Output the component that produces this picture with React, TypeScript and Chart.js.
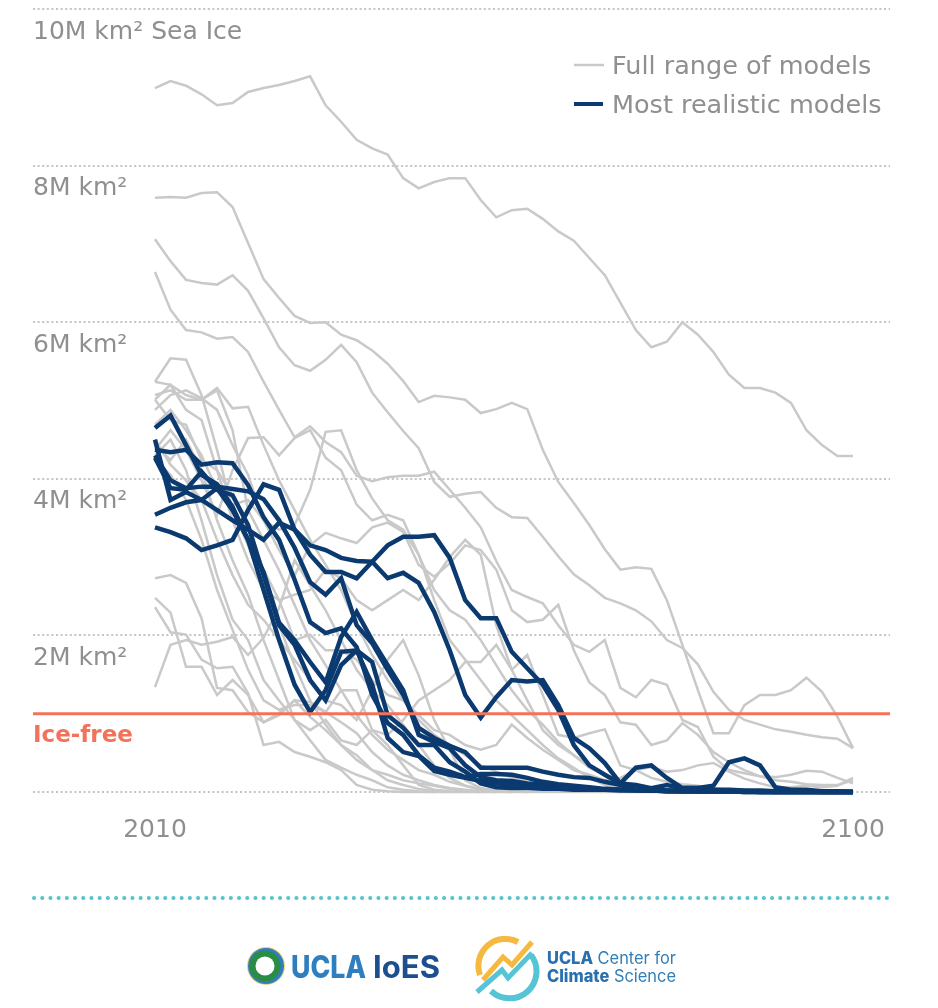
import { useEffect, useRef } from 'react';
import { Chart, registerables } from 'chart.js';

Chart.register(...registerables);

// years every 2 from 2010 to 2100
const years = [
  2010, 2012, 2014, 2016, 2018, 2020, 2022, 2024, 2026, 2028, 2030, 2032, 2034, 2036, 2038, 2040,
  2042, 2044, 2046, 2048, 2050, 2052, 2054, 2056, 2058, 2060, 2062, 2064, 2066, 2068, 2070, 2072,
  2074, 2076, 2078, 2080, 2082, 2084, 2086, 2088, 2090, 2092, 2094, 2096, 2098, 2100,
];

const yTickLabels = ['', '2M km²', '4M km²', '6M km²', '8M km²', '10M km² Sea Ice'];
const xTicks = [2010, 2100];
const iceFreeLevel = 1;

// full range of models, million km2
const gray1 = [8.99, 9.08, 9.02, 8.91, 8.77, 8.8, 8.94, 8.99, 9.03, 9.08, 9.14, 8.77, 8.56, 8.33, 8.22, 8.14, 7.84, 7.71, 7.79, 7.84, 7.84, 7.56, 7.34, 7.43, 7.45, 7.32, 7.16, 7.04, 6.82, 6.6, 6.25, 5.9, 5.68, 5.75, 6.0, 5.84, 5.62, 5.33, 5.16, 5.16, 5.1, 4.97, 4.62, 4.43, 4.29, 4.29];
const gray2 = [7.59, 7.6, 7.59, 7.65, 7.66, 7.47, 7.01, 6.55, 6.31, 6.08, 5.99, 6.0, 5.84, 5.77, 5.64, 5.47, 5.25, 4.98, 5.06, 5.04, 5.01, 4.84, 4.89, 4.97, 4.89, 4.37, 3.96, 3.69, 3.41, 3.1, 2.84, 2.87, 2.85, 2.45, 1.88, 1.3, 0.75, 0.75, 1.11, 1.24, 1.24, 1.3, 1.46, 1.28, 0.96, 0.56];
const gray3 = [7.06, 6.78, 6.54, 6.5, 6.48, 6.6, 6.4, 6.05, 5.68, 5.45, 5.38, 5.52, 5.71, 5.49, 5.1, 4.85, 4.61, 4.39, 3.96, 3.77, 3.81, 3.83, 3.63, 3.51, 3.5, 3.26, 3.01, 2.78, 2.64, 2.48, 2.41, 2.32, 2.18, 1.94, 1.84, 1.63, 1.28, 1.05, 0.92, 0.86, 0.8, 0.77, 0.73, 0.7, 0.68, 0.56];
const gray4 = [6.64, 6.16, 5.9, 5.87, 5.79, 5.81, 5.62, 5.24, 4.88, 4.53, 4.67, 4.47, 4.34, 4.04, 3.97, 4.02, 4.04, 4.04, 4.09, 3.86, 3.63, 3.38, 2.95, 2.58, 2.49, 2.41, 2.13, 1.88, 1.79, 1.94, 1.33, 1.21, 1.43, 1.37, 0.92, 0.83, 0.45, 0.28, 0.24, 0.2, 0.19, 0.22, 0.27, 0.26, 0.18, 0.11];
const gray5 = [5.24, 5.54, 5.52, 5.07, 4.37, 3.6, 3.15, 2.64, 2.13, 1.62, 1.17, 0.86, 0.6, 0.47, 0.28, 0.15, 0.09, 0.04, 0.01, 0];
const gray6 = [5.24, 5.2, 5.07, 5.01, 5.13, 4.62, 3.6, 3.22, 2.83, 2.39, 1.94, 1.62, 1.3, 0.98, 0.73, 0.54, 0.41, 0.28, 0.22, 0.13, 0.08, 0.04, 0.03, 0.01, 0];
const gray7 = [5.07, 5.13, 5.01, 5.01, 5.16, 4.9, 4.92, 4.43, 3.98, 3.6, 3.22, 2.9, 2.58, 2.13, 1.75, 1.43, 1.17, 0.92, 0.73, 0.6, 0.47, 0.34, 0.26, 0.18, 0.13, 0.1, 0.08, 0.05, 0.03, 0.01, 0];
const gray8 = [4.88, 5.07, 5.13, 5.03, 4.88, 4.43, 4.05, 3.47, 3.35, 3.41, 3.86, 4.6, 4.62, 4.11, 3.75, 3.47, 3.35, 3.03, 2.58, 2.32, 2.2, 1.94, 1.62, 1.3, 1.05, 0.86, 0.64, 0.47, 0.34, 0.22, 0.13, 0.06, 0.03, 0.01, 0];
const gray9 = [4.37, 4.62, 4.37, 3.98, 3.54, 4.11, 4.52, 4.53, 4.3, 4.52, 4.62, 4.27, 4.11, 3.67, 3.47, 3.54, 3.47, 3.03, 2.45, 1.94, 1.69, 1.43, 1.17, 0.98, 0.79, 0.6, 0.43, 0.31, 0.18, 0.09, 0.04, 0.01, 0];
const gray10 = [2.73, 2.77, 2.67, 2.22, 1.33, 1.3, 1.02, 0.89, 1.01, 1.17, 1.15, 1.02, 0.89, 0.75, 0.51, 0.34, 0.22, 0.15, 0.09, 0.05, 0.03, 0.01, 0];
const gray11 = [2.48, 2.29, 1.6, 1.6, 1.24, 1.43, 1.24, 0.89, 0.98, 1.17, 0.96, 0.79, 0.6, 0.41, 0.28, 0.22, 0.15, 0.11, 0.08, 0.04, 0.01, 0];
const gray12 = [2.36, 2.04, 2.01, 1.69, 1.58, 1.6, 1.26, 0.6, 0.64, 0.51, 0.45, 0.38, 0.28, 0.09, 0.03, 0.01, 0, 0, 0, 0, 0, 0, 0, 0, 0, 0, 0, 0, 0, 0, 0, 0, 0, 0, 0, 0, 0, 0, 0, 0, 0, 0, 0, 0, 0, 0];
const gray13 = [1.34, 1.88, 1.94, 1.88, 1.92, 1.98, 1.75, 1.97, 2.35, 2.96, 2.64, 2.32, 1.94, 1.56, 1.3, 1.11, 0.86, 0.6, 0.34, 0.18, 0.08, 0.03, 0.01, 0];
const gray14 = [4.69, 4.88, 4.62, 4.3, 3.86, 3.67, 3.73, 3.47, 3.09, 2.77, 3.15, 3.31, 3.24, 3.18, 3.38, 3.44, 3.32, 2.9, 2.75, 2.92, 3.15, 3.09, 2.84, 2.32, 2.17, 2.2, 2.39, 1.81, 1.4, 1.24, 0.89, 0.86, 0.6, 0.66, 0.88, 0.73, 0.51, 0.38, 0.28, 0.2, 0.15, 0.13, 0.1, 0.09, 0.09, 0.15];
const gray15 = [5.01, 5.2, 4.88, 4.75, 4.11, 3.47, 2.96, 2.58, 2.45, 2.52, 2.58, 2.84, 2.73, 2.45, 2.32, 2.45, 2.58, 2.45, 2.71, 3.0, 3.22, 3.03, 2.13, 1.56, 1.17, 0.79, 0.6, 0.47, 0.31, 0.22, 0.13, 0.09, 0.05, 0.03, 0.01, 0];
const gray16 = [4.5, 4.18, 3.98, 3.73, 3.22, 2.77, 2.39, 2.2, 1.94, 1.69, 1.43, 1.17, 1.11, 0.92, 1.3, 1.69, 1.94, 1.49, 0.92, 0.54, 0.15, 0.05, 0.01, 0];
const gray17 = [4.24, 4.05, 3.73, 3.22, 2.58, 2.07, 1.56, 1.17, 1.05, 1.11, 1.11, 1.02, 1.3, 1.3, 0.79, 0.6, 0.34, 0.09, 0.03, 0.01, 0];
const gray18 = [4.43, 4.24, 4.5, 4.11, 3.47, 2.96, 2.52, 1.94, 1.43, 0.92, 0.79, 0.92, 0.66, 0.6, 0.79, 0.73, 0.92, 1.17, 1.3, 1.43, 1.66, 1.66, 1.88, 1.56, 1.75, 1.24, 0.73, 0.69, 0.75, 0.8, 0.34, 0.28, 0.18, 0.13, 0.1, 0.08, 0.05, 0.03, 0.03, 0.01];
const gray19 = [4.3, 4.5, 4.11, 3.47, 2.77, 2.2, 1.94, 1.43, 1.17, 0.92, 0.66, 0.41, 0.31, 0.22, 0.15, 0.06, 0.03, 0.01, 0];
const gray20 = [5.01, 4.75, 4.69, 4.24, 4.11, 3.79, 3.35, 2.84, 2.45, 1.94, 2.01, 1.81, 1.81, 1.69, 1.43, 1.24, 1.17, 0.98, 0.79, 0.73, 0.6, 0.54, 0.6, 0.86, 0.69, 0.54, 0.41, 0.28, 0.22, 0.15, 0.18, 0.28, 0.32, 0.26, 0.28, 0.34, 0.37, 0.26, 0.17, 0.11, 0.06, 0.06, 0.08, 0.06, 0.08, 0.18];

// most realistic models
const blue1 = [4.65, 4.81, 4.43, 4.05, 3.93, 3.64, 3.22, 2.58, 1.94, 1.37, 1.02, 1.3, 1.79, 1.81, 1.37, 0.69, 0.51, 0.46, 0.27, 0.22, 0.18, 0.14, 0.11, 0.09, 0.08, 0.05, 0.05, 0.04, 0.03, 0.03, 0.03, 0.03, 0.03, 0.01, 0.01, 0.01, 0.01, 0.01, 0.01, 0.01, 0, 0, 0, 0, 0, 0];
const blue2 = [4.37, 4.34, 4.37, 4.18, 4.21, 4.2, 3.92, 3.51, 3.22, 2.71, 2.17, 2.03, 2.09, 1.85, 1.24, 0.88, 0.73, 0.47, 0.31, 0.26, 0.19, 0.23, 0.23, 0.22, 0.18, 0.13, 0.1, 0.08, 0.06, 0.04, 0.03, 0.03, 0.02, 0.02, 0.01, 0.01, 0.01, 0.01, 0.01, 0, 0, 0, 0, 0, 0, 0];
const blue3 = [4.5, 3.73, 3.83, 3.73, 3.88, 3.6, 3.22, 2.81, 2.16, 1.94, 1.66, 1.4, 1.98, 2.3, 1.94, 1.62, 1.3, 0.73, 0.64, 0.56, 0.34, 0.19, 0.15, 0.14, 0.11, 0.1, 0.08, 0.05, 0.05, 0.03, 0.03, 0.02, 0.02, 0.01, 0.01, 0.01, 0.01, 0.01, 0.01, 0, 0, 0, 0, 0, 0, 0];
const blue4 = [4.27, 3.88, 3.86, 4.09, 3.86, 3.79, 3.41, 2.77, 2.13, 1.88, 1.43, 1.17, 1.62, 1.81, 1.66, 0.98, 0.82, 0.6, 0.6, 0.38, 0.26, 0.11, 0.06, 0.05, 0.05, 0.04, 0.04, 0.03, 0.03, 0.03, 0.02, 0.02, 0.02, 0.01, 0.01, 0.01, 0.01, 0.01, 0, 0, 0, 0, 0, 0, 0, 0];
const blue5 = [4.3, 3.98, 3.88, 3.9, 3.9, 3.87, 3.84, 3.74, 3.47, 3.12, 2.68, 2.52, 2.73, 2.13, 1.9, 1.56, 1.24, 0.82, 0.69, 0.59, 0.51, 0.31, 0.31, 0.31, 0.31, 0.26, 0.22, 0.19, 0.18, 0.13, 0.09, 0.03, 0.02, 0.02, 0.02, 0.01, 0.01, 0.01, 0, 0, 0, 0, 0, 0, 0, 0];
const blue6 = [3.54, 3.63, 3.7, 3.73, 3.6, 3.47, 3.35, 3.22, 3.44, 3.35, 3.03, 2.81, 2.81, 2.73, 2.94, 3.15, 3.26, 3.26, 3.28, 2.99, 2.45, 2.22, 2.22, 1.79, 1.58, 1.37, 1.05, 0.6, 0.34, 0.22, 0.11, 0.31, 0.34, 0.18, 0.05, 0.05, 0.08, 0.38, 0.43, 0.34, 0.06, 0.03, 0.03, 0.01, 0.01, 0];
const blue7 = [3.38, 3.32, 3.24, 3.09, 3.15, 3.22, 3.6, 3.93, 3.86, 3.35, 3.15, 3.09, 2.99, 2.95, 2.94, 2.73, 2.8, 2.67, 2.3, 1.81, 1.24, 0.95, 1.21, 1.43, 1.41, 1.43, 1.11, 0.69, 0.56, 0.37, 0.11, 0.09, 0.05, 0.09, 0.05, 0.05, 0.03, 0.03, 0.02, 0.02, 0.01, 0.01, 0.01, 0, 0, 0];

const grayModels = [gray1, gray2, gray3, gray4, gray5, gray6, gray7, gray8, gray9, gray10, gray11, gray12, gray13, gray14, gray15, gray16, gray17, gray18, gray19, gray20];
const blueModels = [blue1, blue2, blue3, blue4, blue5, blue6, blue7];

const GRAY = '#c9c9c9';
const NAVY = '#0b3a70';
const ORANGE = '#f3735a';
const TEXT = '#8f8f8f';
const FONT = '"DejaVu Sans", sans-serif';

function toSeries(values: number[]) {
  return values.map((v, i) => ({ x: years[i], y: v }));
}

// legend and the ice-free caption sit inside the plot
const notesPlugin = {
  id: 'notes',
  afterDraw(chart: Chart) {
    const ctx = chart.ctx;
    ctx.save();
    ctx.textBaseline = 'middle';
    ctx.textAlign = 'left';
    ctx.lineCap = 'butt';

    ctx.strokeStyle = GRAY;
    ctx.lineWidth = 2.5;
    ctx.beginPath();
    ctx.moveTo(574, 65);
    ctx.lineTo(604, 65);
    ctx.stroke();
    ctx.strokeStyle = NAVY;
    ctx.lineWidth = 4;
    ctx.beginPath();
    ctx.moveTo(574, 104);
    ctx.lineTo(603, 104);
    ctx.stroke();

    ctx.fillStyle = TEXT;
    ctx.font = '25.5px ' + FONT;
    ctx.fillText('Full range of models', 612, 67);
    ctx.fillText('Most realistic models', 612, 106);

    ctx.fillStyle = ORANGE;
    ctx.font = 'bold 23px ' + FONT;
    ctx.fillText('Ice-free', 33, 736);
    ctx.restore();
  },
};

function SeaIceChart() {
  const canvasRef = useRef<HTMLCanvasElement>(null);

  useEffect(() => {
    if (!canvasRef.current) return;
    const xMin = 1994.27;
    const xMax = 2104.77;
    const chart = new Chart(canvasRef.current, {
      type: 'line',
      data: {
        datasets: [
          {
            label: 'Ice-free',
            data: [{ x: xMin, y: iceFreeLevel }, { x: xMax, y: iceFreeLevel }],
            borderColor: ORANGE,
            borderWidth: 3,
            pointRadius: 0,
          },
          ...blueModels.map((values, i) => ({
            label: 'Realistic ' + (i + 1),
            data: toSeries(values),
            borderColor: NAVY,
            borderWidth: 4.5,
            pointRadius: 0,
            tension: 0,
            clip: false,
          })),
          ...grayModels.map((values, i) => ({
            label: 'Model ' + (i + 1),
            data: toSeries(values),
            borderColor: GRAY,
            borderWidth: 2.5,
            pointRadius: 0,
            tension: 0,
            clip: false,
          })),
        ],
      },
      options: {
        responsive: false,
        animation: false,
        layout: { padding: { left: 33, right: 48, top: 9, bottom: 0 } },
        plugins: { legend: { display: false }, tooltip: { enabled: false } },
        scales: {
          x: {
            type: 'linear',
            min: xMin,
            max: xMax,
            grid: { display: false },
            border: { display: false },
            afterBuildTicks: (scale: any) => {
              scale.ticks = xTicks.map((value) => ({ value }));
            },
            afterFit: (scale: any) => {
              scale.height = 216;
            },
            ticks: {
              color: TEXT,
              font: { family: FONT, size: 25 },
              padding: 15,
              maxRotation: 0,
              autoSkip: false,
              callback: (value: any) => String(value),
            },
          },
          y: {
            min: 0,
            max: 10,
            afterFit: (scale: any) => {
              scale.width = 0;
              scale.paddingTop = 0;
              scale.paddingBottom = 0;
            },
            grid: { color: '#c4c4c4', lineWidth: 2, drawTicks: false },
            border: { display: false, dash: [2, 2.6] },
            ticks: {
              stepSize: 2,
              mirror: true,
              padding: 0,
              labelOffset: 23,
              color: TEXT,
              font: { family: FONT, size: 25 },
              callback: (value: any) => yTickLabels[value / 2],
            },
          },
        },
      },
      plugins: [notesPlugin],
    } as any);
    return () => chart.destroy();
  }, []);

  return <canvas ref={canvasRef} width={938} height={1008} style={{ position: 'absolute', left: 0, top: 0, width: 938, height: 1008 }} />;
}

function Footer() {
  return (
    <svg width={938} height={1008} style={{ position: 'absolute', left: 0, top: 0, pointerEvents: 'none' }}>
      <line x1={34} y1={898} x2={887} y2={898} stroke="#55c4cd" strokeWidth={4} strokeLinecap="round" strokeDasharray="0.1 8.1" />

      <circle cx={266} cy={966} r={19} fill="#e9d27a" />
      <circle cx={266} cy={966} r={18} fill="#2f7fc0" />
      <circle cx={265} cy={966} r={15.5} fill="#2b8c46" />
      <circle cx={265} cy={966} r={9.5} fill="#ffffff" />
      <text x={291} y={978} fontFamily="Inter, sans-serif" fontWeight={800} fontSize={31} fill="#2f7fc0" textLength={75} lengthAdjust="spacingAndGlyphs">UCLA</text>
      <text x={373} y={978} fontFamily="Inter, sans-serif" fontWeight={700} fontSize={31} fill="#1d4f8f" textLength={67} lengthAdjust="spacingAndGlyphs">IoES</text>

      <path d="M480 975 A27 27 0 0 1 518 942" fill="none" stroke="#f6b940" strokeWidth={6} />
      <path d="M483 980 L503 957 L512 965 L532 942" fill="none" stroke="#f6b940" strokeWidth={5} />
      <path d="M531 955 A27 27 0 0 1 491 991" fill="none" stroke="#55c4d4" strokeWidth={6} />
      <path d="M477 992 L502 970 L508 978 L532 953" fill="none" stroke="#55c4d4" strokeWidth={5} />

      <text x={547} y={964} fontFamily="Inter, sans-serif" fontSize={17} fill="#2f7fb8" textLength={129} lengthAdjust="spacingAndGlyphs">
        <tspan fontWeight={800} fill="#2a6fae">UCLA</tspan> Center for
      </text>
      <text x={547} y={982} fontFamily="Inter, sans-serif" fontSize={17} fill="#2f7fb8" textLength={129} lengthAdjust="spacingAndGlyphs">
        <tspan fontWeight={800} fill="#2a6fae">Climate</tspan> Science
      </text>
    </svg>
  );
}

export default function App() {
  return (
    <div style={{ position: 'absolute', left: 0, top: 0, width: 938, height: 1008, background: '#fff', overflow: 'hidden' }}>
      <SeaIceChart />
      <Footer />
    </div>
  );
}
